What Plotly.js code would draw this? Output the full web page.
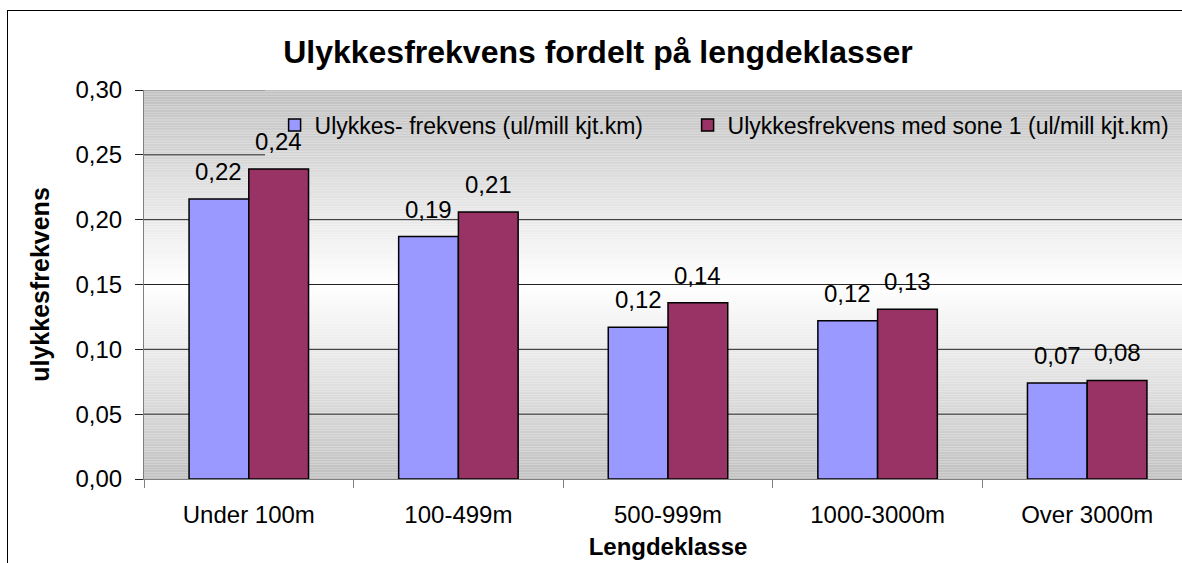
<!DOCTYPE html>
<html>
<head>
<meta charset="utf-8">
<script src="https://cdn.plot.ly/plotly-3.0.1.min.js"></script>
<style>
  html, body { margin: 0; padding: 0; background: #fff; overflow: hidden; width: 1182px; height: 563px; }
  #wrap { position: relative; width: 1182px; height: 563px; overflow: hidden; }
  #chart { position: absolute; left: 0; top: 0; width: 1192px; height: 563px; }
  #frame { position: absolute; left: 7px; top: 10px; width: 1300px; height: 700px;
           border-left: 1px solid #000; border-top: 1px solid #000; pointer-events: none; z-index: 10; }
</style>
</head>
<body>
<div id="wrap"><div id="chart"></div><div id="frame"></div></div>
<script>
// ---- data ----
const categories = ["Under 100m", "100-499m", "500-999m", "1000-3000m", "Over 3000m"];
const seriesNames = ["Ulykkes- frekvens (ul/mill kjt.km)", "Ulykkesfrekvens med sone 1 (ul/mill kjt.km)"];
const frekvens = [0.216, 0.187, 0.117, 0.122, 0.074];
const frekvensSone1 = [0.239, 0.206, 0.136, 0.131, 0.076];
const yTicks = [0, 0.05, 0.10, 0.15, 0.20, 0.25, 0.30];

// ---- style ----
const FONT = "Liberation Sans, Arial, sans-serif";
const colors = ["#9999FF", "#993366"];
const BARGAP = 0.43;
const yMin = 0, yMax = 0.30;
const W = 1192, H = 563, ML = 144;
const PW = W - ML;
const LEGEND_LEFT = (265 - ML) / PW;   // paper x where the legend box begins
const LEGEND_BOTTOM = 0.242;           // y value of the legend box bottom

function grayAt(y) {
  const mid = (yMin + yMax) / 2;
  const t = Math.abs(y - mid) / (mid - yMin);
  const v = Math.round(255 - t * (255 - 192));
  return "rgb(" + v + "," + v + "," + v + ")";
}

const shapes = [];
const N = 240;
for (let i = 0; i < N; i++) {
  const y0 = yMin + (yMax - yMin) * i / N;
  const y1 = yMin + (yMax - yMin) * (i + 1) / N;
  shapes.push({ type: "rect", layer: "below", xref: "paper", yref: "y", x0: 0, x1: 1, y0: y0, y1: y1,
                fillcolor: grayAt((y0 + y1) / 2), line: { width: 0 } });
}
// gridlines (hidden behind the legend box at the top)
yTicks.forEach(v => {
  if (v === 0) return;
  shapes.push({ type: "line", layer: "below", xref: "paper", yref: "y",
                x0: 0, x1: v > LEGEND_BOTTOM ? LEGEND_LEFT : 1, y0: v, y1: v,
                line: { color: v >= yMax ? "#808080" : "#222", width: 1 } });
});

const series = [frekvens, frekvensSone1];
const legendIds = ["legend", "legend2"];
const traces = series.map((vals, k) => ({
  type: "bar",
  name: seriesNames[k],
  x: categories,
  y: vals,
  legend: legendIds[k],
  marker: { color: colors[k], line: { color: "#000", width: 1.5 } },
  hoverinfo: "skip"
}));

const off = (1 - BARGAP) / 4;
const annotations = [];
series.forEach((vals, k) => {
  vals.forEach((v, i) => {
    annotations.push({
      xref: "x", yref: "y", x: i + (k === 0 ? -off : off), y: v,
      text: v.toFixed(2).replace(".", ","), showarrow: false,
      yanchor: "bottom", xanchor: "center", yshift: 12,
      font: { family: FONT, size: 24, color: "#000" }
    });
  });
});

const legendStyle = (px) => ({
  orientation: "h",
  x: (px - ML) / PW, xanchor: "left", xref: "paper",
  y: 0.91, yanchor: "middle", yref: "paper",
  bgcolor: "rgba(0,0,0,0)",
  font: { family: FONT, size: 23, color: "#000" }
});

const layout = {
  width: W, height: H,
  margin: { l: ML, r: 0, t: 90, b: 84, autoexpand: false },
  paper_bgcolor: "#fff",
  plot_bgcolor: "rgba(0,0,0,0)",
  separators: ", ",
  barmode: "group",
  bargap: BARGAP,
  bargroupgap: 0,
  font: { family: FONT, size: 24, color: "#000" },
  title: {
    text: "Ulykkesfrekvens fordelt på lengdeklasser",
    font: { family: FONT, size: 32, weight: 700, color: "#000" },
    x: 598 / W, xanchor: "center", xref: "container",
    y: 1 - 52 / H, yanchor: "middle", yref: "container"
  },
  xaxis: {
    type: "category",
    showline: true, linecolor: "#808080", linewidth: 1,
    ticks: "outside", tickson: "boundaries", ticklen: 8, tickcolor: "#808080",
    tickfont: { family: FONT, size: 24, color: "#000" },
    ticklabelstandoff: 14,
    showgrid: false, zeroline: false,
    title: { text: "Lengdeklasse", font: { family: FONT, size: 24, weight: 700, color: "#000" }, standoff: 11 },
    automargin: false
  },
  yaxis: {
    range: [yMin, yMax],
    tickvals: yTicks,
    tickformat: ".2f",
    showline: true, linecolor: "#808080", linewidth: 1,
    ticks: "outside", ticklen: 8, tickcolor: "#222",
    tickfont: { family: FONT, size: 24, color: "#000" },
    ticklabelstandoff: 8,
    showgrid: false,
    zeroline: false,
    title: { text: "ulykkesfrekvens", font: { family: FONT, size: 25, weight: 700, color: "#000" }, standoff: 18 },
    automargin: false
  },
  legend: legendStyle(274.6),
  legend2: legendStyle(687.6),
  shapes: shapes,
  annotations: annotations,
  showlegend: true
};

Plotly.newPlot("chart", traces, layout, { staticPlot: true, displayModeBar: false });
</script>
</body>
</html>
